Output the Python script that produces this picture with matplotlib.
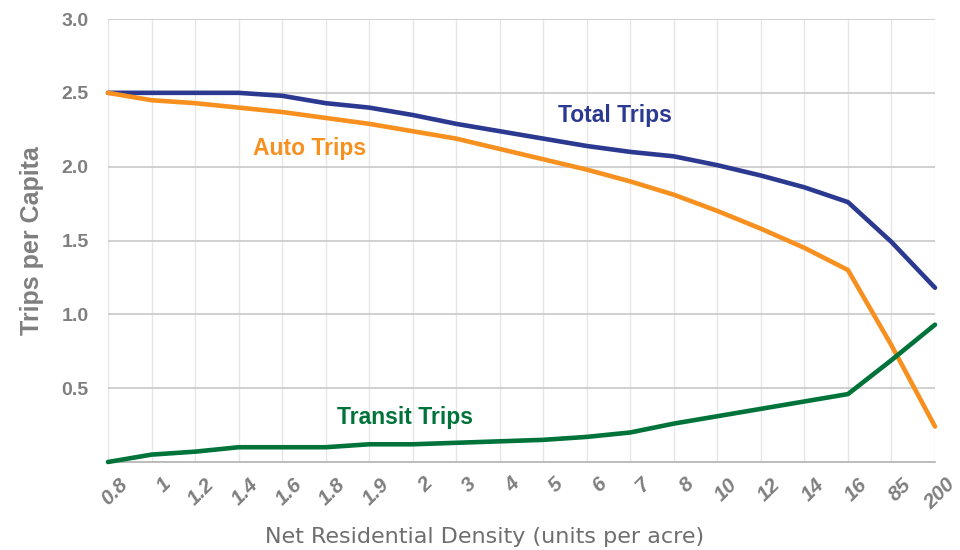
import matplotlib
matplotlib.use("Agg")
import matplotlib.pyplot as plt
from matplotlib import transforms

categories = ["0.8", "1", "1.2", "1.4", "1.6", "1.8", "1.9", "2", "3", "4", "5",
              "6", "7", "8", "10", "12", "14", "16", "85", "200"]
total_trips = [2.50, 2.50, 2.50, 2.50, 2.48, 2.43, 2.40, 2.35, 2.29, 2.24, 2.19,
               2.14, 2.10, 2.07, 2.01, 1.94, 1.86, 1.76, 1.49, 1.18]
auto_trips = [2.50, 2.45, 2.43, 2.40, 2.37, 2.33, 2.29, 2.24, 2.19, 2.12, 2.05,
              1.98, 1.90, 1.81, 1.70, 1.58, 1.45, 1.30, 0.79, 0.24]
transit_trips = [0.00, 0.05, 0.07, 0.10, 0.10, 0.10, 0.12, 0.12, 0.13, 0.14, 0.15,
                 0.17, 0.20, 0.26, 0.31, 0.36, 0.41, 0.46, 0.69, 0.93]
y_ticks = [0.5, 1.0, 1.5, 2.0, 2.5, 3.0]

main = "Liberation Sans"

BLUE = "#2B3990"
ORANGE = "#F7901E"
GREEN = "#00733A"
GRAY = "#7F7F7F"

fig = plt.figure(figsize=(9.6, 5.5), dpi=100)
ax = fig.add_axes([108/960, 1-462/550, (935-108)/960, (462-19)/550])

x = list(range(len(categories)))
ax.plot(x, total_trips, color=BLUE, lw=3.3, solid_capstyle="round", zorder=3, clip_on=False)
ax.plot(x, auto_trips, color=ORANGE, lw=3.3, solid_capstyle="round", zorder=3, clip_on=False)
ax.plot(x, transit_trips, color=GREEN, lw=3.3, solid_capstyle="round", zorder=3, clip_on=False)

ax.set_xlim(0, len(categories) - 1)
ax.set_ylim(0, 3.0)
ax.set_yticks(y_ticks)
ax.set_yticklabels([f"{v:.1f}" for v in y_ticks], fontfamily=main,
                   fontweight="bold", fontsize=14, color=GRAY)
ax.set_xticks(x)
ax.set_xticklabels(categories, rotation=45, ha="right", rotation_mode="anchor",
                   fontfamily=main, fontweight="bold", fontstyle="italic",
                   fontsize=15, color=GRAY)
ax.tick_params(axis="y", length=0, pad=14)
ax.tick_params(axis="x", length=0, pad=9)
offset = transforms.ScaledTranslation(10/100, 0, fig.dpi_scale_trans)
for lab in ax.get_xticklabels():
    lab.set_transform(lab.get_transform() + offset)

ax.grid(axis="y", color="#C8C8C8", lw=1.2, zorder=0)
for xi in x:
    ax.axvline(xi, color="#E6E6E6", lw=1.0, zorder=0)
for s in ["top", "right", "left"]:
    ax.spines[s].set_visible(False)
ax.spines["bottom"].set_color("#B0B0B0")
ax.spines["bottom"].set_linewidth(1.2)

ax.set_ylabel("Trips per Capita", fontfamily=main, fontweight="bold",
              fontsize=18, color=GRAY)
ax.yaxis.set_label_coords(-(108-44)/827, 0.5)
fig.text(485/960, 1-537/550, "Net Residential Density (units per acre)",
         ha="center", va="center", fontfamily="DejaVu Sans", fontsize=16,
         color="#6E6E6E")

ax.text(11.65, 2.345, "Total Trips", color=BLUE, fontfamily=main,
        fontweight="bold", fontsize=16.5, ha="center", va="center")
ax.text(4.64, 2.12, "Auto Trips", color=ORANGE, fontfamily=main,
        fontweight="bold", fontsize=16.5, ha="center", va="center")
ax.text(6.82, 0.30, "Transit Trips", color=GREEN, fontfamily=main,
        fontweight="bold", fontsize=16.5, ha="center", va="center")

fig.savefig("out.png", dpi=100)
